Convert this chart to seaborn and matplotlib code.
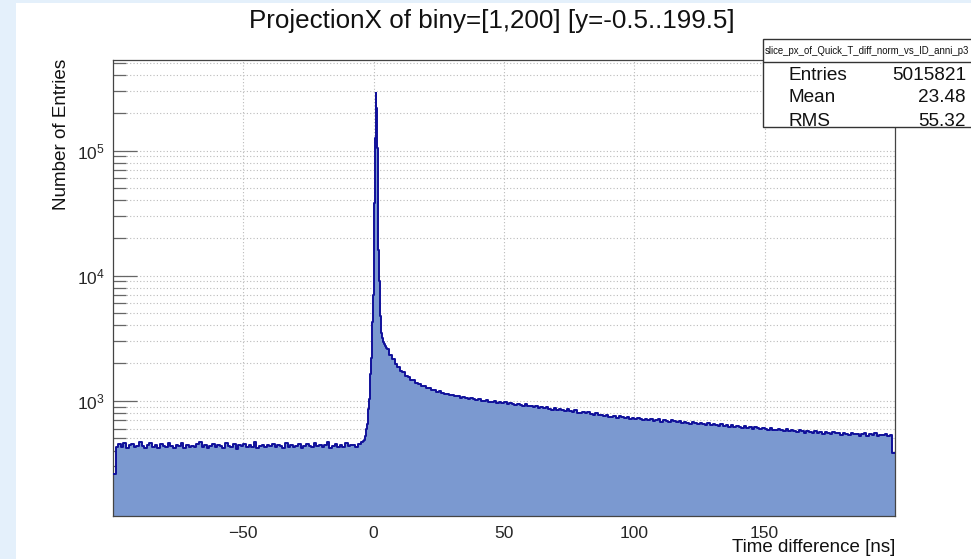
import numpy as np
import pandas as pd
import matplotlib
matplotlib.use("Agg")
import matplotlib.pyplot as plt
import seaborn as sns
from matplotlib.patches import Rectangle
from matplotlib.lines import Line2D
from matplotlib.ticker import FixedLocator, FixedFormatter, NullFormatter

# ---------------- data ----------------
# 1 ns bins from -100 to -4
baseline_counts = [260, 425, 448, 431, 462, 419, 440, 455, 428, 437,
                   470, 433, 421, 446, 458, 430, 441, 417, 452, 436,
                   428, 461, 439, 423, 447, 433, 456, 420, 444, 431,
                   438, 425, 450, 467, 429, 442, 418, 435, 453, 427,
                   446, 432, 421, 459, 437, 428, 449, 414, 441, 436,
                   455, 426, 443, 431, 472, 420, 438, 447, 429, 440,
                   433, 451, 424, 445, 437, 419, 462, 430, 444, 427,
                   439, 453, 421, 436, 448, 432, 425, 457, 434, 441,
                   428, 446, 469, 423, 437, 450, 431, 443, 426, 458,
                   435, 441, 447, 430, 452, 468]
# 0.25 ns bins from -4 to 5 (prompt peak)
peak_counts = [475, 490, 505, 525, 550, 590, 650, 740, 860, 1030,
               1280, 1650, 2200, 3000, 4300, 7000, 14000, 38000, 125000, 290000,
               220000, 105000, 42000, 16000, 9000, 6200, 4800, 4000, 3500, 3200,
               3050, 2950, 2870, 2800, 2730, 2660]
# 1 ns bins from 5 to 200 (delayed tail)
tail_counts = [2600, 2330, 2170, 1975, 1880, 1745, 1690, 1585, 1555, 1470,
               1455, 1392, 1366, 1318, 1312, 1262, 1255, 1214, 1220, 1175,
               1188, 1150, 1136, 1131, 1104, 1112, 1086, 1092, 1058, 1075,
               1062, 1031, 1054, 1029, 1017, 1030, 1001, 992, 1018, 986,
               975, 1002, 968, 981, 955, 970, 944, 962, 951, 927,
               948, 922, 915, 936, 903, 914, 889, 907, 880, 895,
               874, 889, 860, 852, 875, 842, 861, 838, 829, 853,
               831, 817, 838, 806, 798, 821, 792, 809, 781, 770,
               794, 768, 776, 751, 770, 748, 741, 763, 735, 751,
               739, 727, 748, 716, 733, 712, 726, 719, 698, 717,
               706, 721, 694, 700, 712, 683, 697, 689, 672, 701,
               684, 671, 693, 662, 679, 668, 654, 683, 660, 647,
               669, 651, 642, 664, 637, 650, 644, 624, 653, 629,
               638, 620, 641, 613, 632, 619, 601, 628, 610, 616,
               597, 618, 603, 590, 611, 595, 584, 607, 588, 579,
               600, 583, 574, 592, 569, 586, 577, 561, 583, 570,
               558, 578, 563, 549, 571, 556, 565, 545, 560, 552,
               540, 566, 548, 557, 536, 551, 543, 531, 555, 538,
               546, 528, 541, 552, 525, 539, 533, 548, 522, 537,
               530, 545, 527, 536, 380]

baseline_edges = np.arange(-100, -4, 1.0)
peak_edges = np.arange(-4, 5, 0.25)
tail_edges = np.arange(5, 201, 1.0)

x_major = [-50, 0, 50, 100, 150]
x_labels = ["\u221250", "0", "50", "100", "150"]
x_minor = [v for v in range(-90, 200, 10) if v not in x_major]
y_major = [1e3, 1e4, 1e5]
y_labels = [r"$10^{3}$", r"$10^{4}$", r"$10^{5}$"]
y_minor = [k * 10.0 ** e for e in (2, 3, 4, 5) for k in range(2, 10)
           if 120 < k * 10.0 ** e < 5.3e5]

title = "ProjectionX of biny=[1,200] [y=-0.5..199.5]"
x_title = "Time difference [ns]"
y_title = "Number of Entries"
stats_name = "slice_px_of_Quick_T_diff_norm_vs_ID_anni_p3"
stats_rows = ["Entries", "Mean", "RMS"]
stats_vals = ["5015821", "23.48", "55.32"]

# ---------------- build histogram table ----------------
edges = np.concatenate([baseline_edges, peak_edges, tail_edges])
counts = np.array(baseline_counts + peak_counts + tail_counts, dtype=float)
centers = 0.5 * (edges[:-1] + edges[1:])
df = pd.DataFrame({"t": centers, "n": counts})
bin_list = [float(e) for e in edges]

# ---------------- figure ----------------
sns.set_style("white")
plt.rcParams["font.family"] = ["Liberation Sans", "DejaVu Sans"]
plt.rcParams["mathtext.fontset"] = "custom"
plt.rcParams["mathtext.rm"] = "Liberation Sans"
plt.rcParams["mathtext.it"] = "Liberation Sans"

W, H = 971, 559
fig = plt.figure(figsize=(W / 100, H / 100), dpi=100, facecolor="#e4f0fb")

def fx(px):
    return px / W

def fy(py):
    return 1 - py / H

# white slide area
fig.patches.append(Rectangle((fx(16), 0), 1 - fx(16), fy(3), transform=fig.transFigure,
                             facecolor="white", edgecolor="none", zorder=-10))

L, R, T, B = 113, 895, 60, 516
ax = fig.add_axes([fx(L), fy(B), fx(R) - fx(L), fy(T) - fy(B)])
ax.set_facecolor("white")

fill_color = "#7b99d0"
line_color = "#10109a"

sns.histplot(data=df, x="t", weights="n", bins=bin_list, element="step", fill=True,
             color=fill_color, alpha=1, linewidth=0, ax=ax, zorder=2)
sns.histplot(data=df, x="t", weights="n", bins=bin_list, element="step", fill=False,
             color=line_color, linewidth=1.4, ax=ax, zorder=3)

ax.set_yscale("log")
ax.set_xlim(-100, 200)
ax.set_ylim(120, 5.3e5)
ax.set_xlabel("")
ax.set_ylabel("")

ax.xaxis.set_major_locator(FixedLocator(x_major))
ax.xaxis.set_major_formatter(FixedFormatter(x_labels))
ax.xaxis.set_minor_locator(FixedLocator(x_minor))
ax.yaxis.set_major_locator(FixedLocator(y_major))
ax.yaxis.set_major_formatter(FixedFormatter(y_labels))
ax.yaxis.set_minor_locator(FixedLocator(y_minor))
ax.yaxis.set_minor_formatter(NullFormatter())

ax.tick_params(axis="x", which="major", direction="in", length=9.5, width=0.9,
               color="#222222", labelsize=12.5, pad=7, top=False, bottom=True)
ax.tick_params(axis="x", which="minor", direction="in", length=5, width=0.9,
               color="#222222", top=False, bottom=True)
ax.tick_params(axis="y", which="major", direction="in", length=17, width=0.9,
               color="#666666", labelsize=12.5, pad=6, left=True, right=False)
ax.tick_params(axis="y", which="minor", direction="in", length=9, width=0.9,
               color="#666666", left=True, right=False)

ax.set_axisbelow(True)
ax.grid(True, axis="x", which="major", linestyle=(0, (1, 2)), color="#bbbbbb", linewidth=0.8)
ax.grid(True, axis="y", which="both", linestyle=(0, (1, 2)), color="#bbbbbb", linewidth=0.8)

for s in ax.spines.values():
    s.set_color("#444444")
    s.set_linewidth(0.9)

# titles
fig.text(fx(492), fy(21), title, ha="center", va="center", fontsize=18.7, color="#111111")
fig.text(fx(61), fy(59), y_title, ha="center", va="top", rotation=90, fontsize=13.6,
         color="#111111")
fig.text(fx(895), fy(548), x_title, ha="right", va="center", fontsize=13.5, color="#111111")

# stats box
bx0, by0, by1 = 763, 39, 127
fig.patches.append(Rectangle((fx(bx0), fy(by1)), 1.05 - fx(bx0), fy(by0) - fy(by1),
                             transform=fig.transFigure, facecolor="white",
                             edgecolor="#333333", linewidth=1.0, zorder=5))
fig.lines.append(Line2D([fx(bx0), 1.0], [fy(62), fy(62)], transform=fig.transFigure,
                        color="#333333", linewidth=1.0, zorder=6))
fig.text(fx(867), fy(51), stats_name, ha="center", va="center", fontsize=6.9,
         color="#111111", zorder=7)
row_y = [75, 98, 121]
for name, val, yy in zip(stats_rows, stats_vals, row_y):
    fig.text(fx(788), fy(yy), name, ha="left", va="center", fontsize=13.7,
             color="#111111", zorder=7)
    fig.text(fx(966), fy(yy), val, ha="right", va="center", fontsize=13.7,
             color="#111111", zorder=7)

fig.savefig("out.png", dpi=100, facecolor=fig.get_facecolor())
